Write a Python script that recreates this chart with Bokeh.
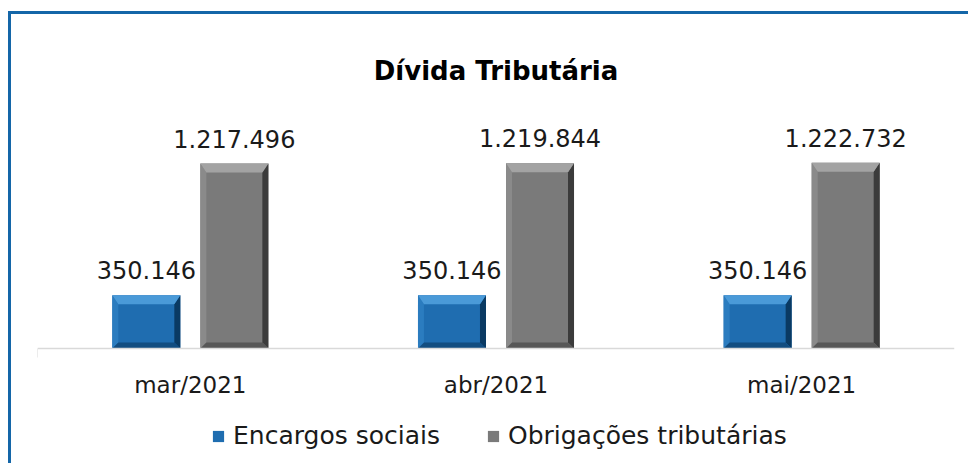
from bokeh.plotting import figure
from bokeh.models import Range1d, FixedTicker, ColumnDataSource, LabelSet, Legend, LegendItem
from bokeh.core.properties import value
from bokeh.embed import file_html
from bokeh.resources import INLINE

# ---- data ----
months = ["mar/2021", "abr/2021", "mai/2021"]
encargos = [350146, 350146, 350146]
obrigacoes = [1217496, 1219844, 1222732]
series_names = ["Encargos sociais", "Obrigações tributárias"]
chart_title = "Dívida Tributária"

# ---- layout constants ----
W, H = 960, 452
ML, MR, MT, MB = 26, 17, 91, 4
FRAME_W = W - ML - MR
FRAME_H = H - MT - MB
Y_MAX = 1_600_000
Y_MIN = -750_000
FONT = "DejaVu Sans"

BAR_W = 0.2225
OFFS = [-0.144, 0.144]

palettes = [
    dict(face="#1f6db0", top="#4a9ad8", left="#2b7cbf", right="#0a3a63", bottom="#124d80"),
    dict(face="#7a7a7a", top="#a3a3a3", left="#8a8a8a", right="#3b3b3b", bottom="#575757"),
]

p = figure(width=W, height=H, x_range=Range1d(0, len(months)), y_range=Range1d(Y_MIN, Y_MAX),
           output_backend="svg", toolbar_location=None,
           min_border_left=ML, min_border_right=MR, min_border_top=MT, min_border_bottom=MB)
p.styles = {"margin-left": "8px", "margin-top": "11px",
            "border-left": "3px solid #1466a8", "border-top": "3px solid #1466a8"}
p.outline_line_color = None
p.xgrid.visible = False
p.ygrid.visible = False
p.yaxis.visible = False
p.background_fill_color = "white"
p.border_fill_color = "white"

px_x = len(months) / FRAME_W
px_y = (Y_MAX - Y_MIN) / FRAME_H
bx = 6 * px_x
bt = 9 * px_y
bb = 6 * px_y

renderers = []
label_x, label_y, label_t = [], [], []
for s, vals in enumerate([encargos, obrigacoes]):
    pal = palettes[s]
    xs_c = [i + 0.5 + OFFS[s] for i in range(len(months))]
    src = ColumnDataSource(dict(x=xs_c, top=vals))
    r = p.vbar(x="x", top="top", bottom=0, width=BAR_W, source=src,
               fill_color=pal["face"], line_color=None)
    renderers.append(r)
    tops_x, tops_y, lefts_x, lefts_y, rights_x, rights_y, bots_x, bots_y = ([] for _ in range(8))
    for xc, v in zip(xs_c, vals):
        x0, x1 = xc - BAR_W / 2, xc + BAR_W / 2
        tops_x.append([x0, x1, x1 - bx, x0 + bx]); tops_y.append([v, v, v - bt, v - bt])
        lefts_x.append([x0, x0, x0 + bx, x0 + bx]); lefts_y.append([0, v, v - bt, bb])
        rights_x.append([x1, x1, x1 - bx, x1 - bx]); rights_y.append([0, v, v - bt, bb])
        bots_x.append([x0, x1, x1 - bx, x0 + bx]); bots_y.append([0, 0, bb, bb])
        label_x.append(xc); label_y.append(v); label_t.append(f"{v:,}".replace(",", "."))
    p.patches(lefts_x, lefts_y, fill_color=pal["left"], line_color=None)
    p.patches(rights_x, rights_y, fill_color=pal["right"], line_color=None)
    p.patches(bots_x, bots_y, fill_color=pal["bottom"], line_color=None)
    p.patches(tops_x, tops_y, fill_color=pal["top"], line_color=None)

lab_src = ColumnDataSource(dict(x=label_x, y=label_y, t=label_t))
p.add_layout(LabelSet(x="x", y="y", text="t", source=lab_src, text_align="center",
                      text_baseline="alphabetic", y_offset=16, text_font_size="24px",
                      text_font=value(FONT), text_color="#1a1a1a"))

ax = p.xaxis[0]
ax.fixed_location = 0
ax.ticker = FixedTicker(ticks=[i + 0.5 for i in range(len(months))], minor_ticks=[0])
ax.major_label_overrides = {i + 0.5: m for i, m in enumerate(months)}
ax.major_label_text_font = FONT
ax.major_label_text_font_size = "23px"
ax.major_label_text_color = "#1a1a1a"
ax.major_label_standoff = 14
ax.axis_line_color = "#d9d9d9"
ax.axis_line_width = 1.5
ax.major_tick_line_color = None
ax.minor_tick_line_color = "#d9d9d9"
ax.minor_tick_out = 9
ax.minor_tick_in = 0

p.title.text = chart_title
p.title.align = "center"
p.title.offset = 7
p.title.text_font = FONT
p.title.text_font_size = "26px"
p.title.text_font_style = "bold"
p.title.text_color = "black"
p.title.standoff = 39

legend = Legend(items=[LegendItem(label=n, renderers=[r]) for n, r in zip(series_names, renderers)],
                orientation="horizontal", location=(174, 12), border_line_color=None,
                background_fill_alpha=0, label_text_font=FONT, label_text_font_size="25px",
                label_text_color="#1a1a1a", glyph_width=14, glyph_height=14, spacing=46,
                label_standoff=8, padding=0, margin=0)
p.add_layout(legend, "center")

open("out.html", "w").write(file_html(p, INLINE))
